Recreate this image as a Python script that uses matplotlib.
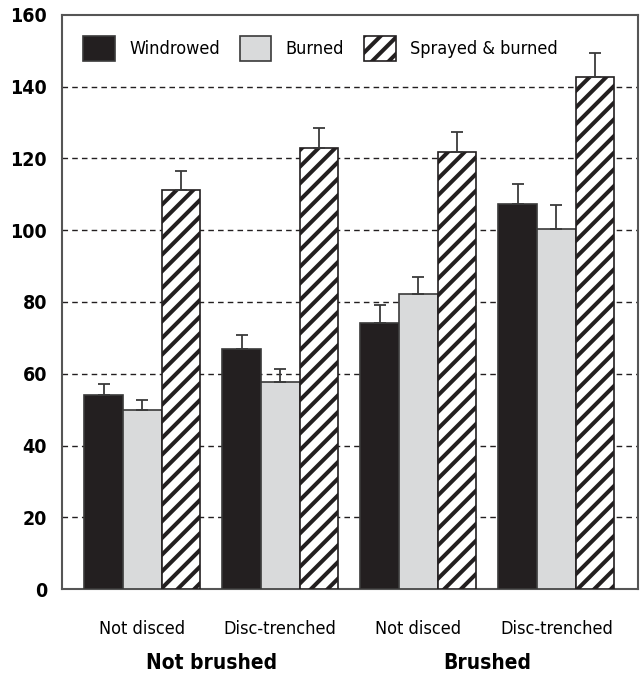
import matplotlib
matplotlib.use("Agg")
from matplotlib import pyplot as plt
import numpy as np

# data
groups = ["Not disced", "Disc-trenched", "Not disced", "Disc-trenched"]
brush_labels = ["Not brushed", "Brushed"]
series = ["Windrowed", "Burned", "Sprayed & burned"]
windrowed = [54.0, 66.8, 74.1, 107.4]
burned = [49.8, 57.7, 82.2, 100.3]
sprayed = [111.3, 123.0, 121.7, 142.7]
windrowed_err = [3.1, 3.9, 5.1, 5.4]
burned_err = [2.9, 3.7, 4.9, 6.7]
sprayed_err = [5.3, 5.6, 5.6, 6.7]

plt.rcParams['font.family'] = ['DejaVu Sans']
plt.rcParams['font.stretch'] = 'condensed'
plt.rcParams['hatch.linewidth'] = 2.9
plt.rcParams['hatch.color'] = '#231f20'

fig = plt.figure(figsize=(6.41, 6.79), dpi=100)
ax = fig.add_axes([0.097, 0.1325, 0.898, 0.8455])

x = np.arange(len(groups))
w = 0.28
edge = '#3a3a3a'
err_kw = dict(ecolor='#3a3a3a', elinewidth=1.3, capsize=4.5, capthick=1.3)

ax.bar(x - w, windrowed, w, color='#231f20', edgecolor=edge, linewidth=1.2,
       label=series[0], yerr=[[0]*4, windrowed_err], error_kw=err_kw, zorder=3)
ax.bar(x, burned, w, color='#d9dadb', edgecolor=edge, linewidth=1.2,
       label=series[1], yerr=[[0]*4, burned_err], error_kw=err_kw, zorder=3)
ax.bar(x + w, sprayed, w, color='white', edgecolor='#231f20', linewidth=1.2, hatch='//',
       label=series[2], yerr=[[0]*4, sprayed_err], error_kw=err_kw, zorder=3)

ax.set_xlim(-0.58, 3.59)
ax.set_ylim(0, 160)
ax.set_yticks(range(0, 161, 20))
ax.set_yticklabels([str(v) for v in range(0, 161, 20)], fontsize=14, fontweight='bold')
ax.set_xticks(x)
ax.set_xticklabels(groups, fontsize=13)
ax.tick_params(axis='both', length=0)
ax.tick_params(axis='x', pad=22)
ax.tick_params(axis='y', pad=11)

for v in range(20, 160, 20):
    ax.axhline(v, color='#231f20', linestyle=(0, (4, 3)), linewidth=1, zorder=1)

for s in ax.spines.values():
    s.set_color('#555555')
    s.set_linewidth(1.5)

ax.text(0.5, -0.129, brush_labels[0], transform=ax.get_xaxis_transform(),
        ha='center', va='center', fontsize=15, fontweight='bold')
ax.text(2.5, -0.129, brush_labels[1], transform=ax.get_xaxis_transform(),
        ha='center', va='center', fontsize=15, fontweight='bold')

ax.legend(loc='upper left', ncol=3, frameon=False, fontsize=13,
          handlelength=1.75, handleheight=1.75, handletextpad=0.8,
          columnspacing=1.1, borderaxespad=0.75)

plt.savefig('out.png', dpi=100)
